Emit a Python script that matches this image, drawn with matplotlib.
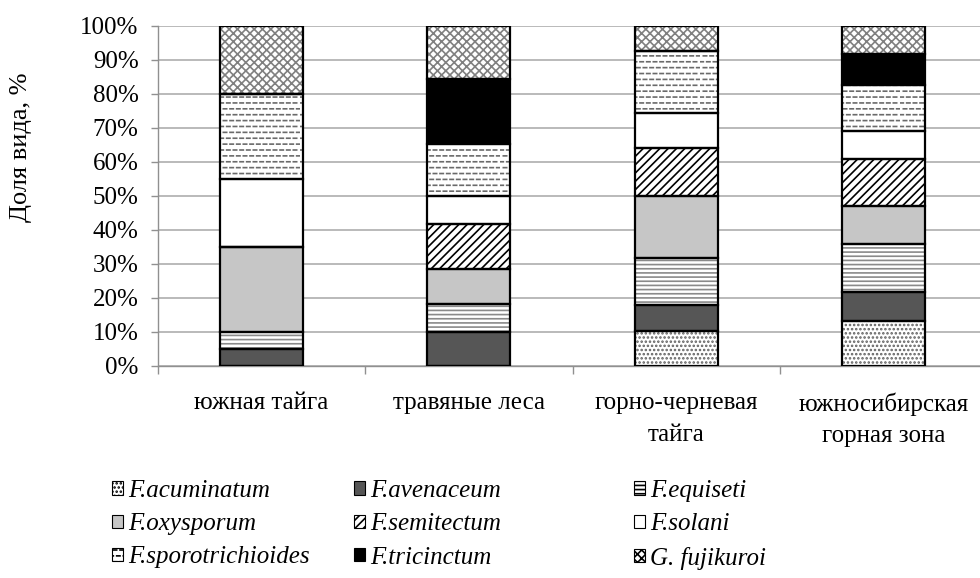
import numpy as np
import matplotlib
matplotlib.use('Agg')
import matplotlib.pyplot as plt
from matplotlib import hatch as mhatch
from matplotlib.path import Path
from matplotlib.patches import Patch

categories = ['южная тайга', 'травяные леса', 'горно-черневая\nтайга', 'южносибирская\nгорная зона']
species = ['F.acuminatum', 'F.avenaceum', 'F.equiseti', 'F.oxysporum', 'F.semitectum',
           'F.solani', 'F.sporotrichioides', 'F.tricinctum', 'G. fujikuroi']

# доли видов, % (по зонам)
acuminatum = [0, 0, 10.3, 13.3]
avenaceum = [5, 10.0, 7.5, 8.6]
equiseti = [5, 8.2, 14.1, 14.0]
oxysporum = [25, 10.3, 18.0, 11.1]
semitectum = [0, 13.3, 14.2, 14.0]
solani = [20, 8.1, 10.3, 8.0]
sporotrichioides = [25, 15.3, 18.2, 13.6]
tricinctum = [0, 19.2, 0, 9.3]
fujikuroi = [20, 15.6, 7.4, 8.1]


# штриховка "пунктирные линии" через символ '*'
class DashHatch(mhatch.HatchPatternBase):
    def __init__(self, hatch, density):
        n = hatch.count('*')
        self.num_rows = 17 * n
        self.num_cols = 15 * n
        self.num_vertices = self.num_rows * self.num_cols * 2

    def set_vertices_and_codes(self, vertices, codes):
        ys = (np.arange(self.num_rows) + 0.5) / self.num_rows
        xs = np.arange(self.num_cols) / self.num_cols
        X, Y = np.meshgrid(xs, ys)
        X = X + (np.arange(self.num_rows) % 2)[:, None] * 0.5 / self.num_cols
        dash = 0.5 / self.num_cols
        vertices[0::2, 0] = X.ravel()
        vertices[0::2, 1] = Y.ravel()
        vertices[1::2, 0] = (X + dash).ravel()
        vertices[1::2, 1] = Y.ravel()
        codes[0::2] = Path.MOVETO
        codes[1::2] = Path.LINETO


mhatch._hatch_types = [t for t in mhatch._hatch_types if t.__name__ != 'Stars'] + [DashHatch]

plt.rcParams['font.family'] = ['Liberation Serif', 'DejaVu Serif']
plt.rcParams['font.size'] = 18
plt.rcParams['hatch.linewidth'] = 1.2

data = [acuminatum, avenaceum, equiseti, oxysporum, semitectum, solani,
        sporotrichioides, tricinctum, fujikuroi]
faces = ['white', '#565656', 'white', '#c6c6c6', 'white', 'white', 'white', 'black', 'white']
hcolors = ['#606060', '#565656', '#8a8a8a', '#c6c6c6', 'black', 'white', '#6a6a6a', 'black', '#808080']
hatches = ['....', None, '----', None, '////', None, '*', None, 'xxxx']

fig = plt.figure(figsize=(9.8, 5.78), dpi=100)
ax = fig.add_axes([158 / 980, 212 / 578, 829 / 980, 340 / 578])

x = np.arange(len(categories))
bottom = np.zeros(len(categories))
for vals, fc, hc, h in zip(data, faces, hcolors, hatches):
    vals = np.array(vals, dtype=float)
    ax.bar(x, vals, 0.4, bottom=bottom, color=fc, edgecolor=hc, hatch=h, linewidth=0, zorder=2)
    ax.bar(x, vals, 0.4, bottom=bottom, fill=False, edgecolor='black', linewidth=1.6, zorder=3)
    bottom += vals

ax.set_xlim(-0.5, len(categories) - 0.5)
ax.set_ylim(0, 100)
ax.set_yticks(np.arange(0, 101, 10))
ax.set_yticklabels(['%d%%' % v for v in range(0, 101, 10)])
ax.grid(axis='y', color='#b4b4b4', linewidth=1.3, zorder=0)
ax.set_xticks(x)
ax.set_xticklabels(categories, linespacing=1.55)
ax.set_xticks(np.arange(len(categories) + 1) - 0.5, minor=True)
ax.tick_params(axis='x', which='major', length=0, pad=19)
ax.tick_params(axis='x', which='minor', length=6, color='#909090', width=1)
ax.tick_params(axis='y', length=5, color='#909090', width=1, pad=9)
for s in ['top', 'right']:
    ax.spines[s].set_visible(False)
for s in ['left', 'bottom']:
    ax.spines[s].set_color('#909090')
    ax.spines[s].set_linewidth(1)

ax.set_ylabel('Доля вида, %', fontsize=19)
ax.yaxis.set_label_coords(-0.152, 0.644)

# легенда: три колонки
handles = [Patch(facecolor=fc, edgecolor='black', hatch=h, linewidth=0.8)
           for fc, h in zip(faces, hatches)]
legend_font = {'family': 'Liberation Serif', 'style': 'italic', 'size': 18}
col_x = [112, 354, 634]
for i, cx in enumerate(col_x):
    idx = [i, i + 3, i + 6]
    leg = fig.legend([handles[j] for j in idx], [species[j] for j in idx],
                     loc='upper left', bbox_to_anchor=(cx / 980, 1 - 480 / 578),
                     frameon=False, borderpad=0, borderaxespad=0, prop=legend_font,
                     handlelength=0.45, handleheight=0.45, handletextpad=0.2,
                     labelspacing=0.45)

fig.savefig('out.png', dpi=100)
